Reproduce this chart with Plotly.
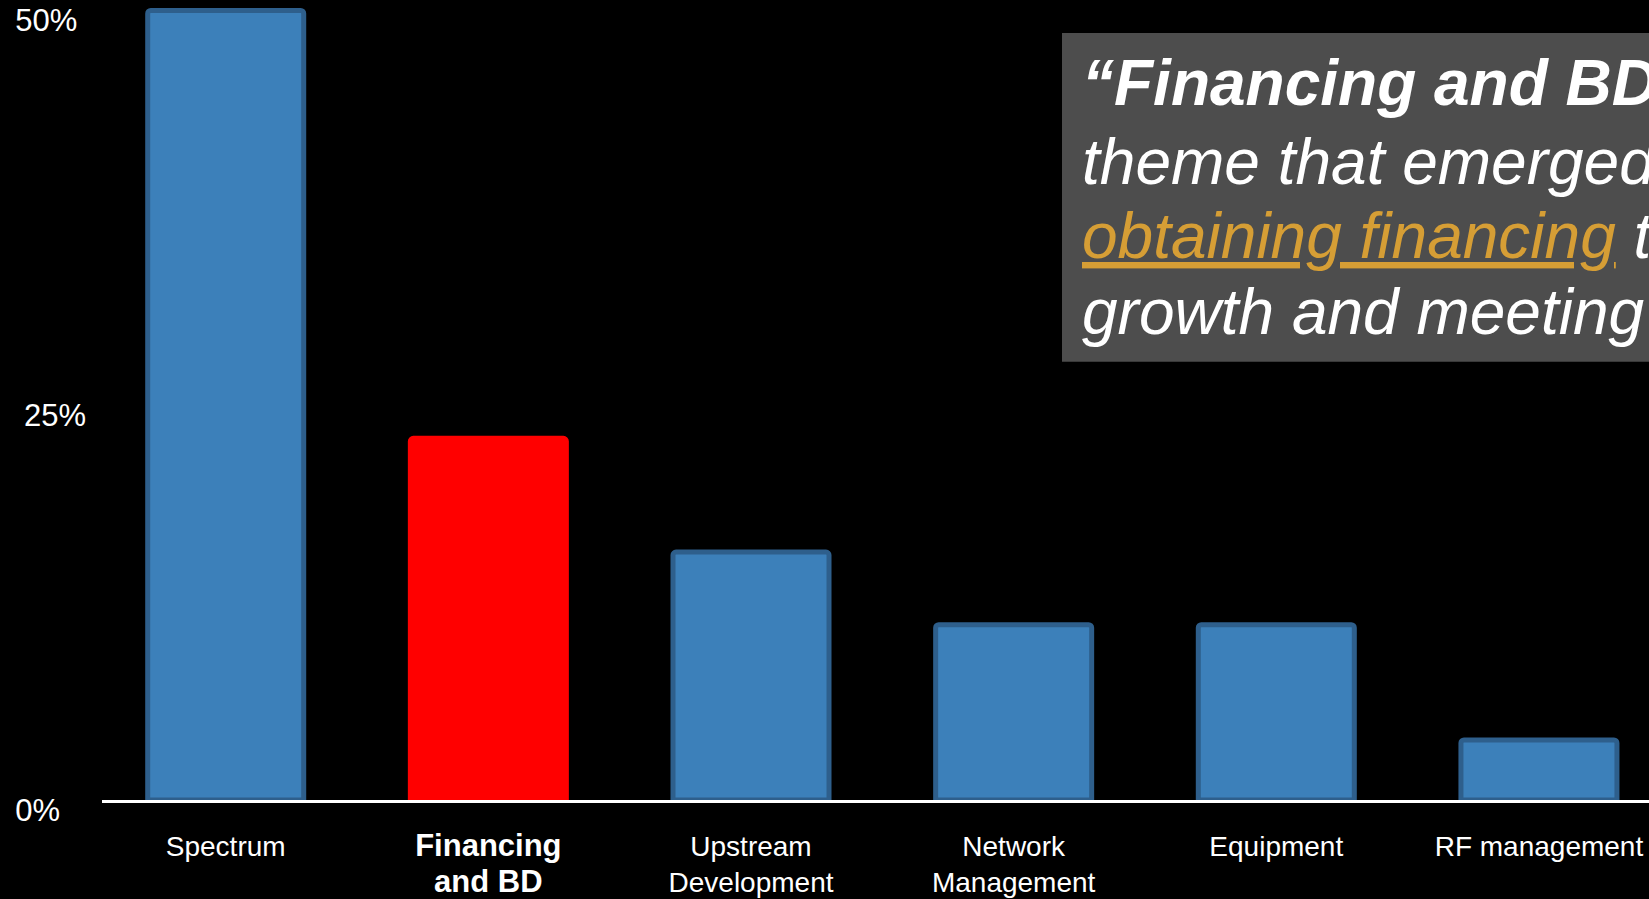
import plotly.graph_objects as go

# ---- data -----------------------------------------------------------------
categories = [
    "Spectrum",
    "Financing and BD",
    "Upstream Development",
    "Network Management",
    "Equipment",
    "RF management",
]
tick_labels = [
    "Spectrum",
    "<span style='font-size:31px'><b>Financing<br>and BD</b></span>",
    "Upstream<br>Development",
    "Network<br>Management",
    "Equipment",
    "RF management",
]
share_pct = [50.0, 22.9, 15.7, 11.1, 11.1, 3.8]
highlight = "Financing and BD"

y_tick_values = [0, 25, 50]
y_tick_labels = ["0%\u00a0\u00a0\u00a0", "25%", "50%\u00a0"]

quote_lines = [
    "<b><i>\u201cFinancing and BD</i></b>",
    "<i>theme that emerged</i>",
    "<i><span style='color:#D69E35;text-decoration:underline;"
    "text-decoration-skip-ink:none'>obtaining financing</span> to</i>",
    "<i>growth and meeting</i>",
]

# ---- layout constants -----------------------------------------------------
W, H = 1649, 899
M_L, M_R, M_T, M_B = 102, 0, 0, 96
PLOT_W = W - M_L - M_R
PLOT_H = H - M_T - M_B

FONT = "Liberation Sans, Arial, sans-serif"
BLUE = "#3C80BA"
BLUE_EDGE = "#2E5F8C"
RED = "#FF0000"


def px_x(px):
    """Horizontal pixel position -> paper coordinate."""
    return (px - M_L) / PLOT_W


def px_y(py):
    """Vertical pixel position (from top) -> paper coordinate."""
    return (PLOT_H + M_T - py) / PLOT_H


fill = [RED if c == highlight else BLUE for c in categories]
edge = [RED if c == highlight else BLUE_EDGE for c in categories]

fig = go.Figure(
    go.Bar(
        x=categories,
        y=share_pct,
        marker=dict(color=fill, line=dict(color=edge, width=5), cornerradius=3),
        hoverinfo="skip",
    )
)

# grey quote panel running off the right edge
fig.add_shape(
    type="rect",
    xref="paper", yref="paper",
    x0=px_x(1062), x1=1.05,
    y0=px_y(363), y1=px_y(33),
    fillcolor="#4D4D4D",
    line=dict(width=0),
    layer="above",
)

line_centres = [83, 163, 237, 313]
for text, cy in zip(quote_lines, line_centres):
    fig.add_annotation(
        text=text,
        xref="paper", yref="paper",
        x=px_x(1080), y=px_y(cy),
        xanchor="left", yanchor="middle",
        showarrow=False,
        align="left",
        font=dict(family=FONT, size=64, color="white"),
    )

fig.update_layout(
    width=W,
    height=H,
    margin=dict(l=M_L, r=M_R, t=M_T, b=M_B, pad=0),
    paper_bgcolor="black",
    plot_bgcolor="black",
    bargap=0.406,
    showlegend=False,
    font=dict(family=FONT, color="white"),
)

fig.update_xaxes(
    type="category",
    range=[-0.471, 5.419],
    tickvals=categories,
    ticktext=tick_labels,
    tickfont=dict(family=FONT, size=28, color="white"),
    ticks="",
    ticklabelstandoff=19,
    showline=True,
    linecolor="white",
    linewidth=3,
    showgrid=False,
    zeroline=False,
)

fig.update_yaxes(
    range=[0, 50.66],
    tickvals=y_tick_values,
    ticktext=y_tick_labels,
    tickfont=dict(family=FONT, size=31, color="white"),
    ticks="",
    ticklabelstandoff=15,
    ticklabelshift=10,
    showline=False,
    showgrid=False,
    zeroline=False,
)

fig.write_html("out.html")
